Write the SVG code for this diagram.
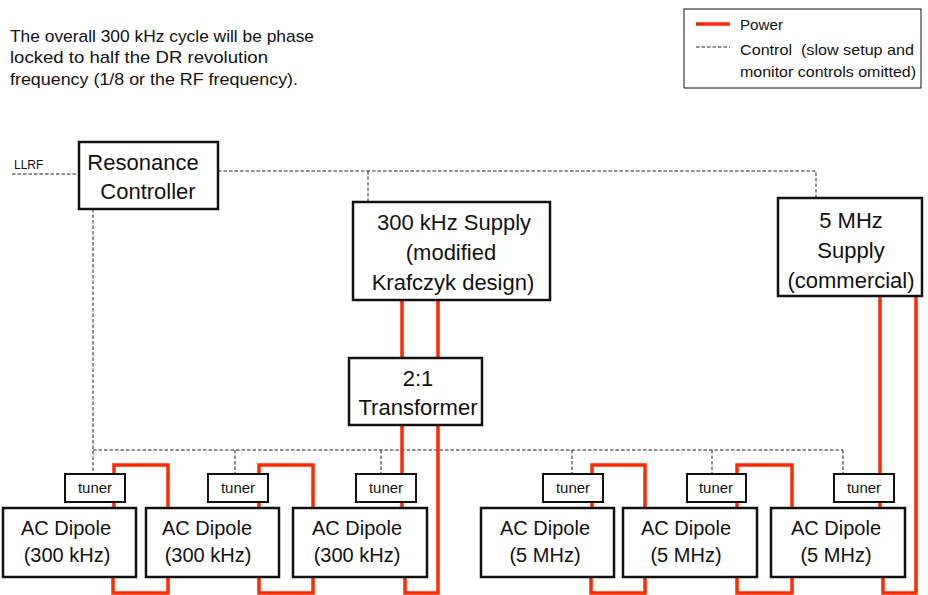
<svg xmlns="http://www.w3.org/2000/svg" width="928" height="595" viewBox="0 0 928 595">
<style>
text{font-family:"Liberation Sans",Arial,sans-serif;fill:#111}
.box{fill:#fff;stroke:#111;stroke-width:2.5}
.tb{fill:#fff;stroke:#111;stroke-width:2}
.big{font-size:22px;text-anchor:middle}
.dip{font-size:20px;text-anchor:middle}
.tun{font-size:15px;text-anchor:middle}
.note{font-size:17px}
.leg{font-size:15px}
.ctl{fill:none;stroke:#222;stroke-width:1;stroke-dasharray:3.5 2}
.pwr{fill:none;stroke:#ff2a00;stroke-width:3.5}
</style>
<rect width="928" height="595" fill="#fff"/>
<g id="note">
<text class="note" x="10" y="42" textLength="304" lengthAdjust="spacingAndGlyphs">The overall 300 kHz cycle will be phase</text>
<text class="note" x="10" y="63" textLength="258" lengthAdjust="spacingAndGlyphs">locked to half the DR revolution</text>
<text class="note" x="10" y="85" textLength="288" lengthAdjust="spacingAndGlyphs">frequency (1/8 or the RF frequency).</text>
</g>
<g id="legend">
<rect x="684" y="9" width="237" height="79" fill="#fff" stroke="#111" stroke-width="1"/>
<line x1="696" y1="24" x2="730" y2="24" class="pwr"/>
<text class="leg" x="740" y="30" textLength="43" lengthAdjust="spacingAndGlyphs">Power</text>
<line x1="696" y1="47" x2="730" y2="47" class="ctl"/>
<text class="leg" x="740" y="55" textLength="174" lengthAdjust="spacingAndGlyphs" xml:space="preserve">Control  (slow setup and</text>
<text class="leg" x="740" y="77" textLength="176" lengthAdjust="spacingAndGlyphs">monitor controls omitted)</text>
</g>
<g id="connectors">
<polyline class="ctl" points="12,174 79,174"/>
<polyline class="ctl" points="218,171 816,171 816,198"/>
<polyline class="ctl" points="368,171 368,202"/>
<polyline class="ctl" points="93,209 93,474"/>
<polyline class="ctl" points="93,450 843,450"/>
<polyline class="ctl" points="235,450 235,474"/>
<polyline class="ctl" points="381,450 381,474"/>
<polyline class="ctl" points="572,450 572,474"/>
<polyline class="ctl" points="712,450 712,474"/>
<polyline class="ctl" points="843,450 843,474"/>
<polyline class="pwr" points="402,300 402,358"/>
<polyline class="pwr" points="438,300 438,358"/>
<polyline class="pwr" points="402,425 402,508"/>
<polyline class="pwr" points="438,425 438,593 405,593 405,577"/>
<polyline class="pwr" points="114,508 114,465 168,465 168,508"/>
<polyline class="pwr" points="113,577 113,593 168,593 168,577"/>
<polyline class="pwr" points="259,508 259,465 313,465 313,508"/>
<polyline class="pwr" points="259,577 259,593 313,593 313,577"/>
<polyline class="pwr" points="592,508 592,465 645,465 645,508"/>
<polyline class="pwr" points="591,577 591,593 645,593 645,577"/>
<polyline class="pwr" points="737,508 737,465 792,465 792,508"/>
<polyline class="pwr" points="737,577 737,593 792,593 792,577"/>
<polyline class="pwr" points="880,296 880,508"/>
<polyline class="pwr" points="883,577 883,593 916,593 916,296"/>
</g>
<g id="llrf"><text x="14" y="169" font-size="12">LLRF</text></g>
<g id="resonance-controller">
<rect class="box" x="79" y="142" width="139" height="67"/>
<text class="big" x="143" y="170">Resonance</text>
<text class="big" x="148" y="199">Controller</text>
</g>
<g id="supply-300k">
<rect class="box" x="353" y="202" width="197" height="98"/>
<text class="big" x="454" y="230">300 kHz Supply</text>
<text class="big" x="451" y="260">(modified</text>
<text class="big" x="453" y="290">Krafczyk design)</text>
</g>
<g id="supply-5m">
<rect class="box" x="778" y="198" width="144" height="98"/>
<text class="big" x="851" y="228">5 MHz</text>
<text class="big" x="851" y="258">Supply</text>
<text class="big" x="851" y="288">(commercial)</text>
</g>
<g id="transformer">
<rect class="box" x="349" y="358" width="133" height="67"/>
<text class="big" x="418" y="386">2:1</text>
<text class="big" x="418" y="415">Transformer</text>
</g>
<g id="tuner1"><rect class="tb" x="65" y="474" width="60" height="28"/><text class="tun" x="95" y="493">tuner</text></g>
<g id="tuner2"><rect class="tb" x="208" y="474" width="60" height="28"/><text class="tun" x="238" y="493">tuner</text></g>
<g id="tuner3"><rect class="tb" x="356" y="474" width="60" height="28"/><text class="tun" x="386" y="493">tuner</text></g>
<g id="tuner4"><rect class="tb" x="543" y="474" width="60" height="28"/><text class="tun" x="573" y="493">tuner</text></g>
<g id="tuner5"><rect class="tb" x="687" y="474" width="59" height="28"/><text class="tun" x="716" y="493">tuner</text></g>
<g id="tuner6"><rect class="tb" x="834" y="474" width="60" height="28"/><text class="tun" x="864" y="493">tuner</text></g>
<g id="dipole1"><rect class="box" x="3" y="508" width="133" height="69"/><text class="dip" x="66" y="535">AC Dipole</text><text class="dip" x="67" y="562">(300 kHz)</text></g>
<g id="dipole2"><rect class="box" x="146" y="508" width="133" height="69"/><text class="dip" x="207" y="535">AC Dipole</text><text class="dip" x="208" y="562">(300 kHz)</text></g>
<g id="dipole3"><rect class="box" x="293" y="508" width="134" height="69"/><text class="dip" x="357" y="535">AC Dipole</text><text class="dip" x="357" y="562">(300 kHz)</text></g>
<g id="dipole4"><rect class="box" x="481" y="508" width="133" height="69"/><text class="dip" x="545" y="535">AC Dipole</text><text class="dip" x="545" y="562">(5 MHz)</text></g>
<g id="dipole5"><rect class="box" x="623" y="508" width="134" height="69"/><text class="dip" x="686" y="535">AC Dipole</text><text class="dip" x="686" y="562">(5 MHz)</text></g>
<g id="dipole6"><rect class="box" x="771" y="508" width="134" height="69"/><text class="dip" x="836" y="535">AC Dipole</text><text class="dip" x="836" y="562">(5 MHz)</text></g>
</svg>
